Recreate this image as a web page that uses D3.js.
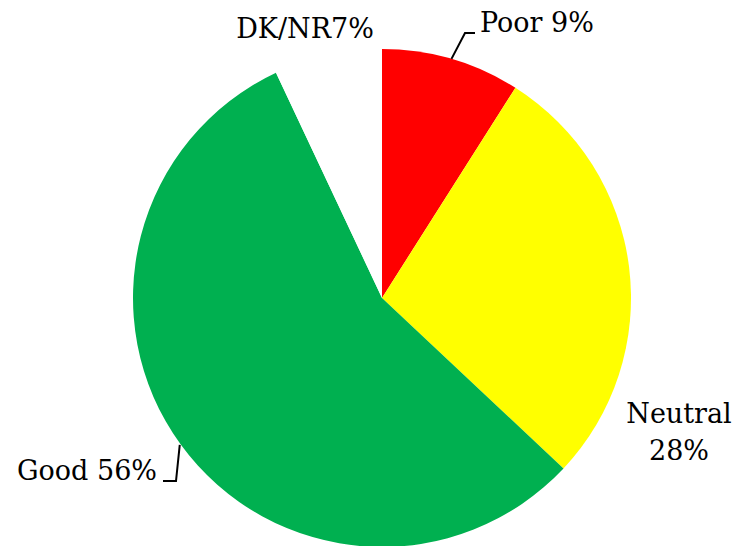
<!DOCTYPE html>
<html>
<head>
<meta charset="utf-8">
<script src="https://cdn.jsdelivr.net/npm/d3@7"></script>
<style>
  body { margin: 0; background: #fff; }
  text { font-family: "DejaVu Serif", "Liberation Serif", serif; fill: #000; }
</style>
</head>
<body>
<div id="chart"></div>
<script>
const categories = ["Poor", "Neutral", "Good", "DK/NR"];
const values = [9, 28, 56, 7];
const colors = ["#ff0000", "#ffff00", "#00b050", "#ffffff"];
const labels = [["Poor 9%"], ["Neutral", "28%"], ["Good 56%"], ["DK/NR7%"]];

const width = 733;
const height = 546;
const cx = 382, cy = 298, radius = 249;

const svg = d3
  .select("#chart")
  .append("svg")
  .attr("width", width)
  .attr("height", height);

const g = svg.append("g").attr("transform", `translate(${cx}, ${cy})`);

const pie = d3.pie().sort(null).value((d) => d);
const arcs = pie(values);
const arc = d3.arc().innerRadius(0).outerRadius(radius);

// slices
g.selectAll("path.slice")
  .data(arcs)
  .join("path")
  .attr("class", "slice")
  .attr("d", arc)
  .attr("fill", (d, i) => colors[i]);

// label anchors, relative to the pie centre
const labelPos = [
  { x: 98, y: -266, anchor: "start" },
  { x: 297, y: 125, anchor: "middle" },
  { x: -225, y: 182, anchor: "end" },
  { x: -77, y: -260, anchor: "middle" }
];

arcs.forEach((d, i) => {
  const p = labelPos[i];
  const t = g.append("text")
    .attr("x", p.x)
    .attr("y", p.y)
    .attr("text-anchor", p.anchor)
    .style("font-size", "27px");
  labels[i].forEach((line, j) => {
    t.append("tspan").attr("x", p.x).attr("dy", j === 0 ? 0 : 37).text(line);
  });
});

// leader lines from the middle of the slice edge
const leader = d3.line();
function edgeMid(d, r) {
  const a = (d.startAngle + d.endAngle) / 2;
  return [Math.sin(a) * r, -Math.cos(a) * r];
}
const poorStart = edgeMid(arcs[0], radius);
g.append("path")
  .attr("d", leader([poorStart, [83, -265], [93, -265]]))
  .attr("fill", "none")
  .attr("stroke", "#000")
  .attr("stroke-width", 2);

const goodStart = edgeMid(arcs[2], radius + 1);
g.append("path")
  .attr("d", leader([goodStart, [-206, 183], [-219, 183]]))
  .attr("fill", "none")
  .attr("stroke", "#000")
  .attr("stroke-width", 2);
</script>
</body>
</html>
